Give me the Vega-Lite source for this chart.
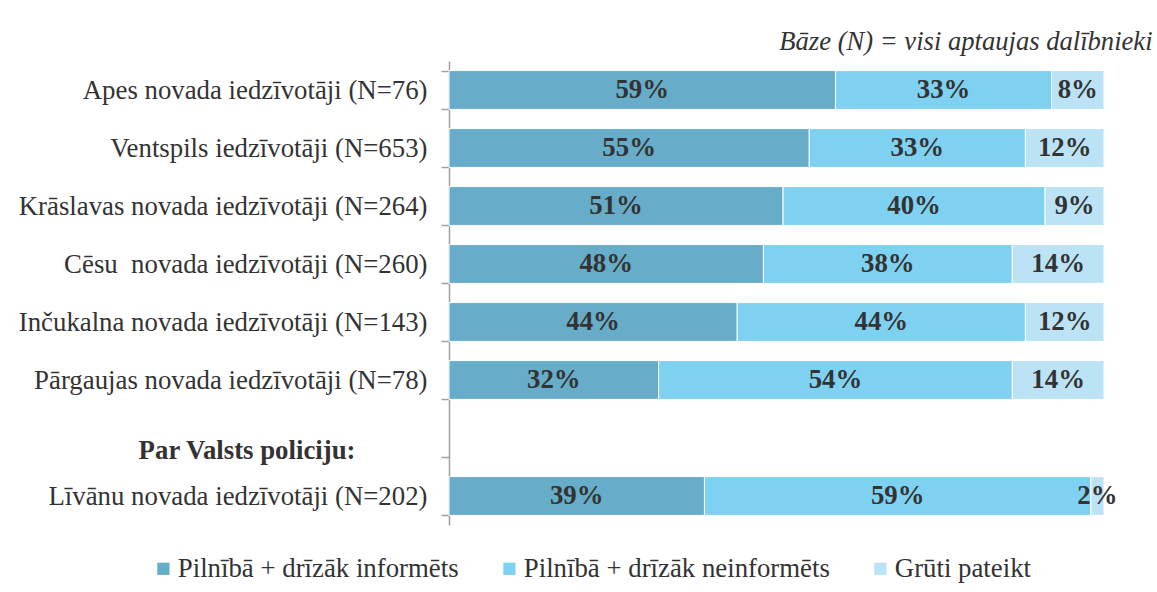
{
  "$schema": "https://vega.github.io/schema/vega-lite/v6.json",
  "autosize": {"type": "none"},
  "padding": {"left": 449, "top": 61, "right": 53, "bottom": 67},
  "width": 655,
  "height": 464,
  "background": "white",
  "config": {
    "view": {"stroke": null},
    "font": "Liberation Serif",
    "text": {"font": "Liberation Serif"},
    "style": {
      "guide-label": {"font": "Liberation Serif", "fontSize": 26.8, "fill": "#333333"},
      "group-title": {"font": "Liberation Serif"}
    },
    "legend": {"labelFont": "Liberation Serif", "labelFontSize": 26.8, "labelColor": "#333333", "padding": 0}
  },
  "title": {
    "text": "Bāze (N) = visi aptaujas dalībnieki",
    "anchor": "end",
    "font": "Liberation Serif",
    "fontSize": 26.6,
    "fontStyle": "italic",
    "fontWeight": "normal",
    "color": "#333333",
    "baseline": "alphabetic",
    "offset": 11,
    "dx": 35,
    "dy": 40
  },
  "data": {
    "values": [
      {"cat": "Apes novada iedzīvotāji (N=76)", "series": "Pilnībā + drīzāk informēts", "value": 0.59},
      {"cat": "Apes novada iedzīvotāji (N=76)", "series": "Pilnībā + drīzāk neinformēts", "value": 0.33},
      {"cat": "Apes novada iedzīvotāji (N=76)", "series": "Grūti pateikt", "value": 0.08},
      {"cat": "Ventspils iedzīvotāji (N=653)", "series": "Pilnībā + drīzāk informēts", "value": 0.55},
      {"cat": "Ventspils iedzīvotāji (N=653)", "series": "Pilnībā + drīzāk neinformēts", "value": 0.33},
      {"cat": "Ventspils iedzīvotāji (N=653)", "series": "Grūti pateikt", "value": 0.12},
      {"cat": "Krāslavas novada iedzīvotāji (N=264)", "series": "Pilnībā + drīzāk informēts", "value": 0.51},
      {"cat": "Krāslavas novada iedzīvotāji (N=264)", "series": "Pilnībā + drīzāk neinformēts", "value": 0.40},
      {"cat": "Krāslavas novada iedzīvotāji (N=264)", "series": "Grūti pateikt", "value": 0.09},
      {"cat": "Cēsu\u00a0 novada iedzīvotāji (N=260)", "series": "Pilnībā + drīzāk informēts", "value": 0.48},
      {"cat": "Cēsu\u00a0 novada iedzīvotāji (N=260)", "series": "Pilnībā + drīzāk neinformēts", "value": 0.38},
      {"cat": "Cēsu\u00a0 novada iedzīvotāji (N=260)", "series": "Grūti pateikt", "value": 0.14},
      {"cat": "Inčukalna novada iedzīvotāji (N=143)", "series": "Pilnībā + drīzāk informēts", "value": 0.44},
      {"cat": "Inčukalna novada iedzīvotāji (N=143)", "series": "Pilnībā + drīzāk neinformēts", "value": 0.44},
      {"cat": "Inčukalna novada iedzīvotāji (N=143)", "series": "Grūti pateikt", "value": 0.12},
      {"cat": "Pārgaujas novada iedzīvotāji (N=78)", "series": "Pilnībā + drīzāk informēts", "value": 0.32},
      {"cat": "Pārgaujas novada iedzīvotāji (N=78)", "series": "Pilnībā + drīzāk neinformēts", "value": 0.54},
      {"cat": "Pārgaujas novada iedzīvotāji (N=78)", "series": "Grūti pateikt", "value": 0.14},
      {"cat": "Līvānu novada iedzīvotāji (N=202)", "series": "Pilnībā + drīzāk informēts", "value": 0.39},
      {"cat": "Līvānu novada iedzīvotāji (N=202)", "series": "Pilnībā + drīzāk neinformēts", "value": 0.59},
      {"cat": "Līvānu novada iedzīvotāji (N=202)", "series": "Grūti pateikt", "value": 0.02}
    ]
  },
  "transform": [
    {"stack": "value", "groupby": ["cat"], "as": ["x0", "x1"]},
    {"calculate": "(datum.x0 + datum.x1) / 2", "as": "xmid"}
  ],
  "encoding": {
    "y": {
      "field": "cat",
      "type": "nominal",
      "title": null,
      "scale": {
        "domain": [
          "Apes novada iedzīvotāji (N=76)",
          "Ventspils iedzīvotāji (N=653)",
          "Krāslavas novada iedzīvotāji (N=264)",
          "Cēsu\u00a0 novada iedzīvotāji (N=260)",
          "Inčukalna novada iedzīvotāji (N=143)",
          "Pārgaujas novada iedzīvotāji (N=78)",
          "Par Valsts policiju:",
          "Līvānu novada iedzīvotāji (N=202)"
        ],
        "paddingInner": 0.33,
        "paddingOuter": 0.165
      },
      "axis": {
        "domainColor": "#a0a0a0",
        "domainWidth": 1.5,
        "tickColor": "#a0a0a0",
        "tickWidth": 1.5,
        "tickSize": 8,
        "tickBand": "extent",
        "labelFont": "Liberation Serif",
        "labelFontSize": 26.8,
        "labelColor": "#333333",
        "labelLimit": 600,
        "labelPadding": {"condition": {"test": "datum.value === 'Par Valsts policiju:'", "value": 86}, "value": 14},
        "labelOffset": {"condition": {"test": "datum.value === 'Par Valsts policiju:'", "value": 12}, "value": 0},
        "labelFontWeight": {"condition": {"test": "datum.value === 'Par Valsts policiju:'", "value": "bold"}, "value": "normal"}
      }
    }
  },
  "layer": [
    {
      "mark": {"type": "bar", "stroke": "white", "strokeWidth": 1},
      "encoding": {
        "x": {"field": "x0", "type": "quantitative", "scale": {"domain": [0, 1]}, "axis": null},
        "x2": {"field": "x1"},
        "color": {
          "field": "series",
          "type": "nominal",
          "scale": {
            "domain": ["Pilnībā + drīzāk informēts", "Pilnībā + drīzāk neinformēts", "Grūti pateikt"],
            "range": ["#67acc8", "#7fd1f1", "#bbe3f5"]
          },
          "legend": {
            "title": null,
            "orient": "none",
            "direction": "horizontal",
            "legendX": -299,
            "legendY": 494,
            "padding": 0,
            "symbolType": "square",
            "symbolSize": 150,
            "symbolStrokeWidth": 0,
            "labelFont": "Liberation Serif",
            "labelFontSize": 26.8,
            "labelColor": "#333333",
            "labelOffset": 1,
            "labelLimit": 500,
            "columnPadding": 37
          }
        }
      }
    },
    {
      "mark": {"type": "text", "font": "Liberation Serif", "fontSize": 26.8, "fontWeight": "bold", "color": "#333333", "baseline": "middle", "align": "center"},
      "encoding": {
        "x": {"field": "xmid", "type": "quantitative"},
        "text": {"field": "value", "type": "quantitative", "format": ".0%"}
      }
    }
  ]
}
